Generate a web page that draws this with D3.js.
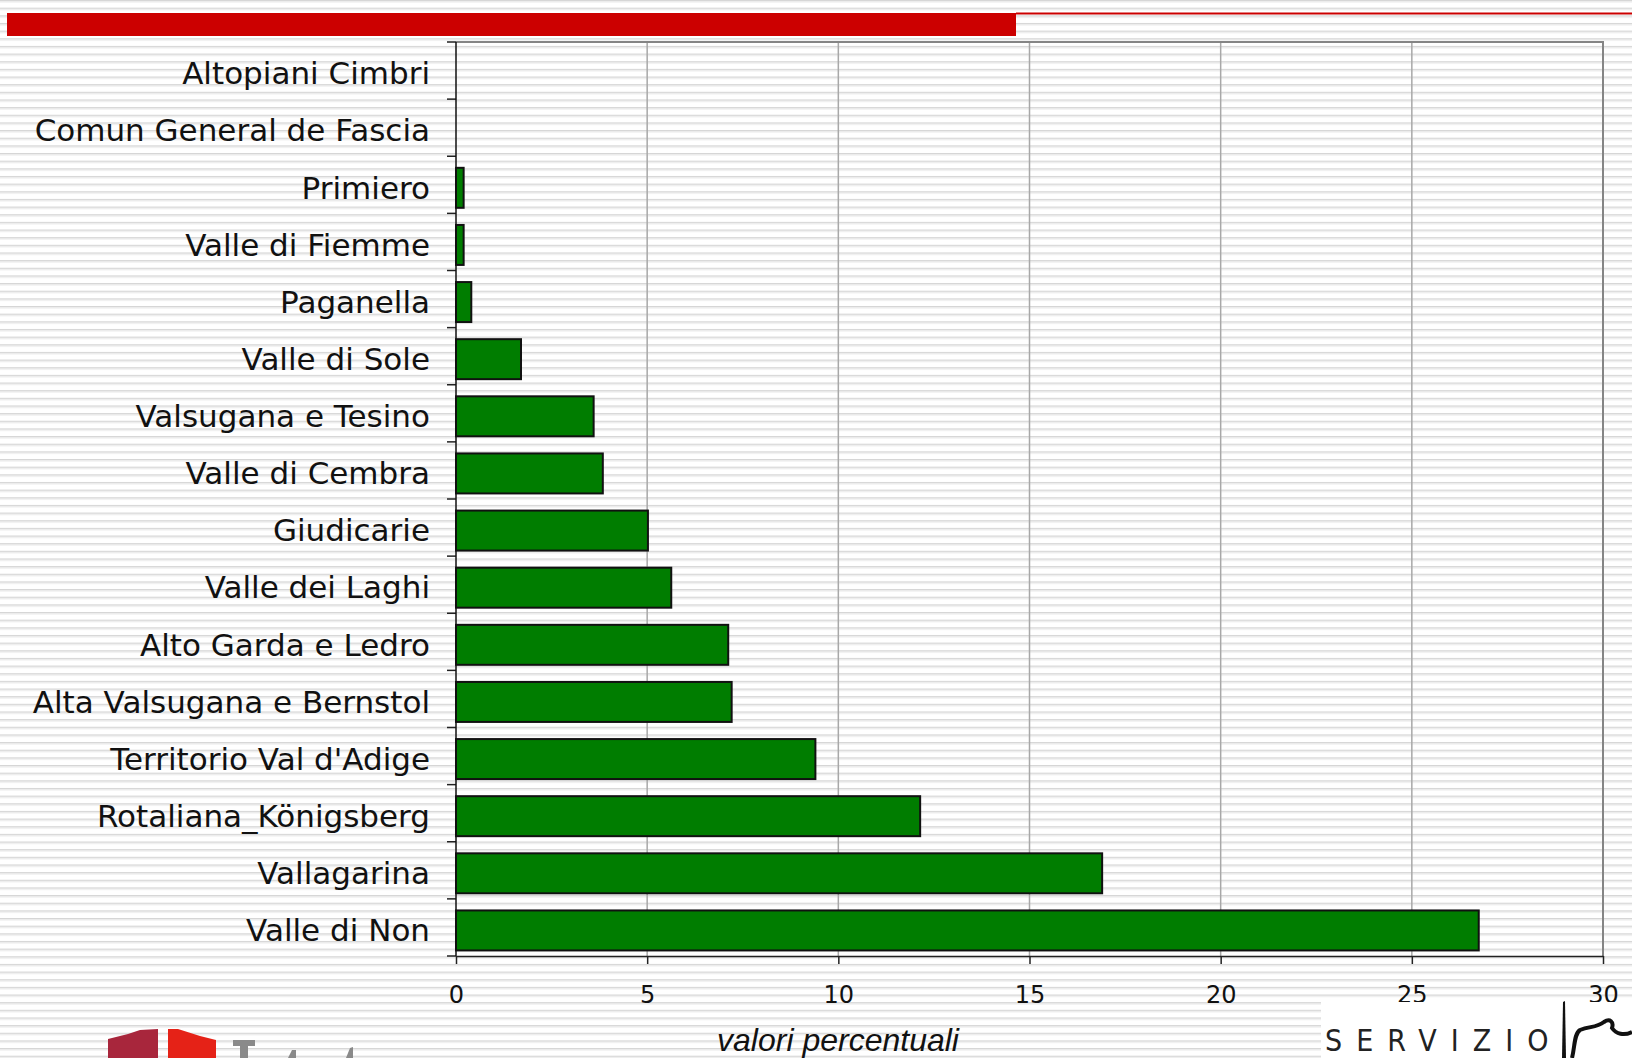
<!DOCTYPE html>
<html>
<head>
<meta charset="utf-8">
<script src="https://cdn.jsdelivr.net/npm/d3@7"></script>
<style>
  body { margin: 0; background: #fff; }
  svg { display: block; }
</style>
</head>
<body>
<svg id="chart" width="1632" height="1058"></svg>
<script>
// categories top to bottom, values in percent
const regions = [
  'Altopiani Cimbri', 'Comun General de Fascia', 'Primiero', 'Valle di Fiemme',
  'Paganella', 'Valle di Sole', 'Valsugana e Tesino', 'Valle di Cembra',
  'Giudicarie', 'Valle dei Laghi', 'Alto Garda e Ledro', 'Alta Valsugana e Bernstol',
  "Territorio Val d'Adige", 'Rotaliana_Königsberg', 'Vallagarina', 'Valle di Non'
];
const values = [0, 0, 0.2, 0.2, 0.4, 1.7, 3.6, 3.84, 5.02, 5.63, 7.12, 7.21, 9.4, 12.14, 16.9, 26.75];
const xTicks = [0, 5, 10, 15, 20, 25, 30];
const xTitle = 'valori percentuali';

const data = regions.map((r, i) => ({ region: r, value: values[i] }));

const svg = d3.select('#chart');
const W = 1632, H = 1058;
const plot = { left: 456, right: 1603, top: 42, bottom: 956 };

// striped page background
const defs = svg.append('defs');
const pat = defs.append('pattern')
  .attr('id', 'stripes')
  .attr('patternUnits', 'userSpaceOnUse')
  .attr('width', 10).attr('height', 7.65);
pat.append('rect').attr('width', 10).attr('height', 7.65).attr('fill', '#ffffff');
pat.append('rect').attr('y', 0).attr('width', 10).attr('height', 1.2).attr('fill', '#d6d6d6');
pat.append('rect').attr('y', 1.2).attr('width', 10).attr('height', 1.2).attr('fill', '#e9e9e9');

svg.append('rect').attr('width', W).attr('height', H).attr('fill', 'url(#stripes)');

// red header bar
svg.append('rect').attr('x', 7).attr('y', 13).attr('width', 1009).attr('height', 23).attr('fill', '#cc0000');
svg.append('rect').attr('x', 1016).attr('y', 12.5).attr('width', W - 1016).attr('height', 2).attr('fill', '#cc0000');

const x = d3.scaleLinear().domain([0, 30]).range([plot.left, plot.right]);
const y = d3.scaleBand().domain(regions).range([plot.top, plot.bottom])
  .paddingInner(0.3).paddingOuter(0.15);

// vertical gridlines
svg.append('g')
  .selectAll('line')
  .data(xTicks.slice(1, -1))
  .enter()
  .append('line')
  .attr('x1', d => x(d)).attr('x2', d => x(d))
  .attr('y1', plot.top).attr('y2', plot.bottom)
  .attr('stroke', '#a8a8a8').attr('stroke-width', 1.5);

// plot border (top and right)
svg.append('path')
  .attr('d', `M${plot.left},${plot.top}H${plot.right}V${plot.bottom}`)
  .attr('fill', 'none').attr('stroke', '#858585').attr('stroke-width', 2);

// bars
svg.append('g')
  .selectAll('.bar')
  .data(data)
  .enter()
  .append('rect')
  .classed('bar', true)
  .attr('x', x(0))
  .attr('y', d => y(d.region) + 3)
  .attr('width', d => x(d.value) - x(0))
  .attr('height', y.bandwidth())
  .attr('fill', '#007d00')
  .attr('stroke', d => d.value > 0 ? '#111' : 'none')
  .attr('stroke-width', 2);

// y axis
const yAxis = svg.append('g')
  .attr('transform', `translate(${plot.left},0)`)
  .call(d3.axisLeft(y).tickSize(0).tickPadding(0));
yAxis.select('.domain').remove();
yAxis.selectAll('text')
  .attr('x', -26)
  .attr('dy', '0.38em')
  .attr('y', 2)
  .style('font-family', '"DejaVu Sans", Verdana, sans-serif')
  .style('font-size', '31px')
  .attr('fill', '#111');

const bounds = [plot.top];
regions.forEach((r, i) => bounds.push(plot.top + (i + 1) * (plot.bottom - plot.top) / regions.length));
svg.append('g')
  .selectAll('line')
  .data(bounds)
  .enter()
  .append('line')
  .attr('x1', plot.left - 9).attr('x2', plot.left)
  .attr('y1', d => d).attr('y2', d => d)
  .attr('stroke', '#222').attr('stroke-width', 1.5);

svg.append('line')
  .attr('x1', plot.left).attr('x2', plot.left)
  .attr('y1', plot.top).attr('y2', plot.bottom)
  .attr('stroke', '#111').attr('stroke-width', 1.5);

// x axis
const xAxis = svg.append('g')
  .attr('transform', `translate(0,${plot.bottom})`)
  .call(d3.axisBottom(x).tickValues(xTicks).tickSize(8).tickPadding(22).tickSizeOuter(0));
xAxis.select('.domain').attr('stroke', '#222').attr('stroke-width', 1.5);
xAxis.selectAll('.tick line').attr('stroke', '#222').attr('stroke-width', 1.5);
xAxis.selectAll('text')
  .style('font-family', '"DejaVu Sans", Verdana, sans-serif')
  .style('font-size', '24px')
  .attr('fill', '#111');

svg.append('text')
  .attr('x', 838)
  .attr('y', 1051)
  .attr('text-anchor', 'middle')
  .style('font-family', '"Liberation Sans", Arial, sans-serif')
  .style('font-style', 'italic')
  .style('font-size', '32px')
  .attr('fill', '#111')
  .text(xTitle);

// left logo fragment
svg.append('path').attr('d', 'M108,1039 L128,1034 L140,1030 L158,1029 L158,1058 L108,1058 Z').attr('fill', '#a8263c');
svg.append('path').attr('d', 'M168,1029 L178,1029 L200,1036 L216,1040 L216,1058 L168,1058 Z').attr('fill', '#e52217');
svg.append('path').attr('d', 'M233,1040 H255 V1046 H248 V1058 H240 V1046 H233 Z').attr('fill', '#8a8a8a');
svg.append('path').attr('d', 'M288,1058 L292,1050 L296,1050 L296,1058 Z').attr('fill', '#8a8a8a');
svg.append('path').attr('d', 'M346,1058 L350,1048 L353,1047 L353,1058 Z').attr('fill', '#8a8a8a');

// right logo fragment
svg.append('rect').attr('x', 1321).attr('y', 1002).attr('width', W - 1321).attr('height', H - 1002).attr('fill', '#fff');
svg.append('text')
  .attr('x', 1325).attr('y', 1051)
  .style('font-family', '"DejaVu Sans Condensed", "DejaVu Sans", sans-serif')
  .style('font-size', '30px')
  .style('letter-spacing', '14px')
  .attr('fill', '#222')
  .text('SERVIZIO');
svg.append('path').attr('d', 'M1562,1058 L1563,1002 L1565,1001 L1566,1058 Z').attr('fill', '#111');
svg.append('path')
  .attr('d', 'M1572,1058 C1575,1046 1574,1034 1580,1030 C1590,1026 1596,1028 1604,1022 C1610,1018 1614,1022 1612,1028 C1616,1034 1624,1036 1632,1032')
  .attr('fill', 'none').attr('stroke', '#111').attr('stroke-width', 4);
</script>
</body>
</html>
